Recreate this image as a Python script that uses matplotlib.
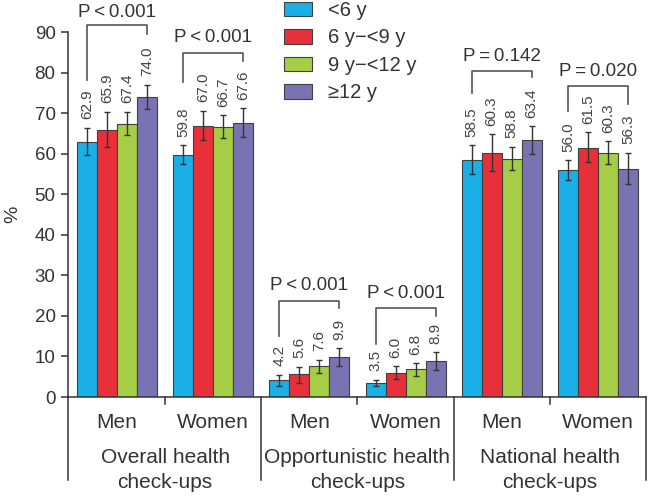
import numpy as np
import matplotlib
matplotlib.use("Agg")
import matplotlib.pyplot as plt
from matplotlib.transforms import blended_transform_factory

plt.rcParams["font.family"] = ["Liberation Sans", "DejaVu Sans"]

# subgroups along x
SUB_LABELS = ["Men", "Women", "Men", "Women", "Men", "Women"]
GROUP_LABELS = ["Overall health\ncheck-ups", "Opportunistic health\ncheck-ups",
                "National health\ncheck-ups"]
SERIES = ["<6 y", "6 y\u2212<9 y", "9 y\u2212<12 y", "\u226512 y"]
COLORS = ["#1aafe6", "#e8303a", "#a5cd46", "#7a73b3"]

# % values per age group
lt6 = [62.9, 59.8, 4.2, 3.5, 58.5, 56.0]
y6_9 = [65.9, 67.0, 5.6, 6.0, 60.3, 61.5]
y9_12 = [67.4, 66.7, 7.6, 6.8, 58.8, 60.3]
ge12 = [74.0, 67.6, 9.9, 8.9, 63.4, 56.3]

# confidence limits
lt6_lo = [59.6, 57.6, 2.7, 2.7, 55.1, 53.6]
lt6_hi = [66.5, 62.2, 5.5, 4.3, 62.2, 58.4]
y6_9_lo = [61.7, 63.5, 3.5, 4.4, 55.7, 57.9]
y6_9_hi = [70.4, 70.7, 7.5, 7.6, 64.9, 65.3]
y9_12_lo = [64.6, 63.9, 6.0, 5.3, 56.1, 57.6]
y9_12_hi = [70.4, 69.5, 9.2, 8.3, 61.8, 63.2]
ge12_lo = [71.1, 64.1, 7.6, 6.6, 60.0, 52.6]
ge12_hi = [77.1, 71.3, 12.0, 11.1, 66.9, 60.3]

# P-for-trend brackets: text, bracket level, left/right leg ends, text level
P_TEXT = ["P\u2009<\u20090.001", "P\u2009<\u20090.001", "P\u2009<\u20090.001",
          "P\u2009<\u20090.001", "P\u2009=\u20090.142", "P\u2009=\u20090.020"]
P_BAR = [91.7, 84.8, 23.8, 21.9, 80.4, 76.7]
P_LEFT = [78.2, 77.8, 15.0, 13.2, 75.1, 70.6]
P_RIGHT = [89.6, 82.9, 21.9, 20.0, 78.9, 72.2]
P_TXT_Y = [95.0, 88.6, 27.6, 25.6, 84.0, 80.4]

values = [lt6, y6_9, y9_12, ge12]
los = [lt6_lo, y6_9_lo, y9_12_lo, ge12_lo]
his = [lt6_hi, y6_9_hi, y9_12_hi, ge12_hi]

DARK = "#333333"
W = 0.208

fig = plt.figure(figsize=(6.5, 4.96), dpi=100)
ax = fig.add_axes([68 / 650, 99 / 496, 578 / 650, 364.7 / 496])

x = np.arange(len(SUB_LABELS))
handles = []
for k in range(4):
    xs = x + (k - 1.5) * W
    v = np.array(values[k])
    err = np.vstack([v - np.array(los[k]), np.array(his[k]) - v])
    b = ax.bar(xs, v, W, color=COLORS[k], edgecolor="#404040", linewidth=0.8,
               label=SERIES[k], zorder=2)
    handles.append(b)
    ax.errorbar(xs, v, yerr=err, fmt="none", ecolor=DARK, elinewidth=1.0,
                capsize=2.5, capthick=1.0, zorder=3)
    for xi, vi, hi in zip(xs, v, his[k]):
        ax.annotate(f"{vi:.1f}", (xi, hi), xytext=(0, 6), textcoords="offset points",
                    rotation=90, ha="center", va="bottom", fontsize=11,
                    color="#444444", annotation_clip=False)

# brackets
for i in range(len(SUB_LABELS)):
    xl = x[i] - 1.5 * W
    xr = x[i] + 1.5 * W
    ax.plot([xl, xl, xr, xr], [P_LEFT[i], P_BAR[i], P_BAR[i], P_RIGHT[i]],
            color="#555555", lw=1.2, clip_on=False, zorder=4)
    ax.text(x[i], P_TXT_Y[i], P_TEXT[i], ha="center", va="center",
            fontsize=13.5, color="#333333", clip_on=False)

ax.set_xlim(-0.51, 5.5)
ax.set_ylim(0, 90)
ax.set_yticks(np.arange(0, 91, 10))
ax.tick_params(axis="y", length=5, width=1.1, color=DARK, labelsize=13.5,
               labelcolor="#333333", pad=4)
ax.set_xticks([])
for s in ["top", "right"]:
    ax.spines[s].set_visible(False)
for s in ["left", "bottom"]:
    ax.spines[s].set_color(DARK)
    ax.spines[s].set_linewidth(1.1)

fig.text(13 / 650, 1 - 214 / 496, "%", rotation=90, ha="center", va="center",
         fontsize=14, color="#333333")

# category axis underneath
trans = blended_transform_factory(ax.transData, ax.transAxes)
for xs_ in [0.5, 2.5, 4.5]:
    ax.plot([xs_, xs_], [0, -0.02], transform=trans, color=DARK, lw=1.1, clip_on=False)
for xs_ in [-0.51, 1.5, 3.5, 5.5]:
    ax.plot([xs_, xs_], [0, -0.228], transform=trans, color=DARK, lw=1.1, clip_on=False)
for i, lab in enumerate(SUB_LABELS):
    ax.text(x[i], -0.071, lab, transform=trans, ha="center", va="center",
            fontsize=15, color="#333333")
for g, lab in enumerate(GROUP_LABELS):
    ax.text(2 * g + 0.5, -0.2, lab, transform=trans, ha="center", va="center",
            fontsize=15, color="#333333", linespacing=1.42)

fig.legend(handles=handles, labels=SERIES, loc="upper left",
           bbox_to_anchor=(284 / 650, 1 - 1 / 496), frameon=False, fontsize=14.5,
           handlelength=1.4, handleheight=0.75, handletextpad=0.8,
           labelspacing=0.42, borderpad=0, borderaxespad=0, labelcolor="#333333")

fig.savefig("out.png", dpi=100)
